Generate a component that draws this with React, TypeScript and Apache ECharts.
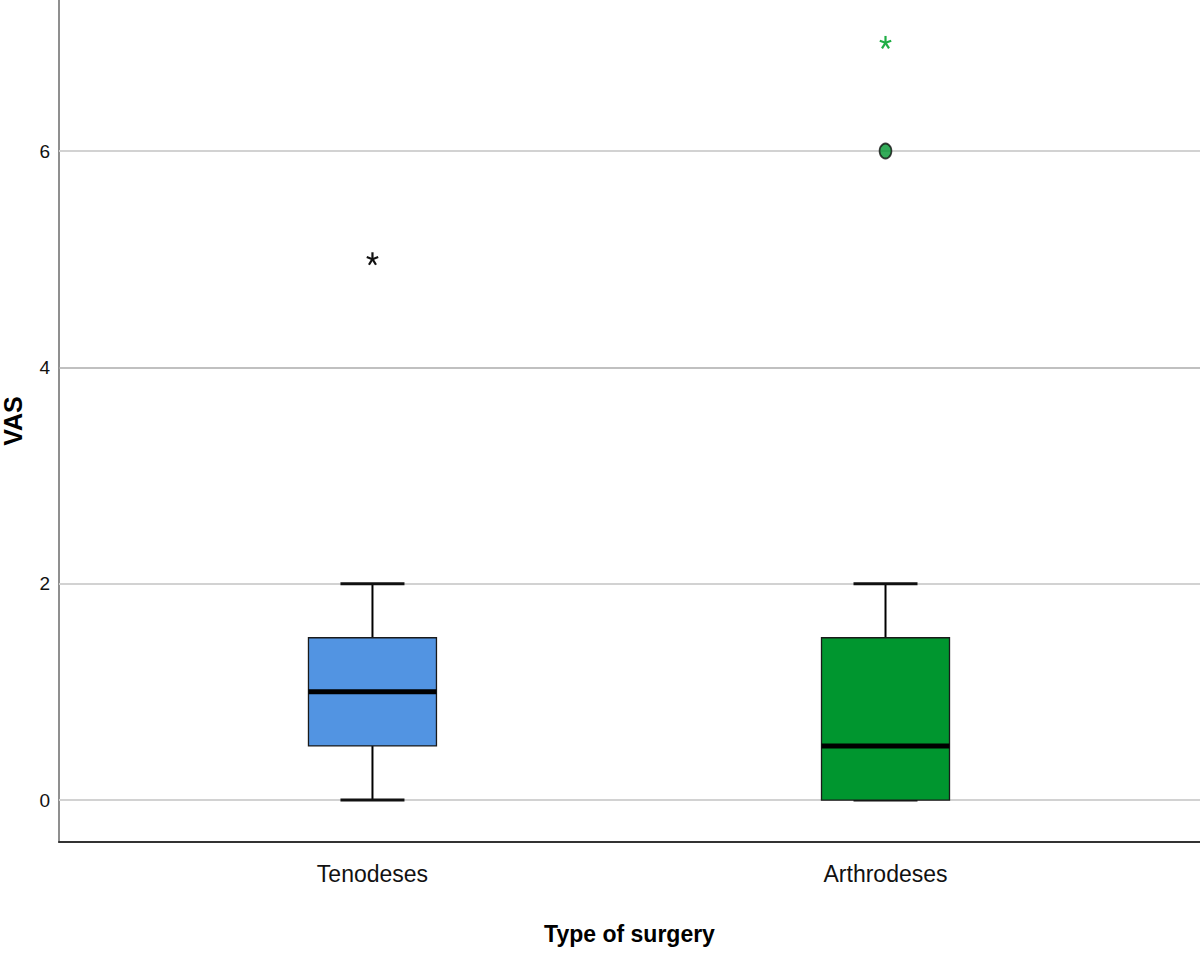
import React, { useEffect, useRef } from "react";
import * as echarts from "echarts";

// ---- data ----
const categories = ["Tenodeses", "Arthrodeses"];
const categoryPositions = [1, 2];
const whiskerMin = [0, 0];
const quartile1 = [0.5, 0];
const medians = [1, 0.5];
const quartile3 = [1.5, 1.5];
const whiskerMax = [2, 2];
// outliers (circles) and extreme values (asterisks)
const outlierCategory = [2];
const outlierValues = [6];
const extremeCategory = [1, 2];
const extremeValues = [5, 7];
const yTicks = [0, 2, 4, 6];

// ---- styles ----
const boxColors = ["#5294E2", "#00962F"];
const extremeColors = ["#111111", "#1FAE45"];
const FONT = "'Liberation Sans', Arial, sans-serif";

export default function App() {
  const ref = useRef<HTMLDivElement>(null);

  useEffect(() => {
    if (!ref.current) return;
    const chart = echarts.init(ref.current, null, { renderer: "svg" });

    const boxData = categoryPositions.map((x, i) => [
      x,
      whiskerMin[i],
      quartile1[i],
      medians[i],
      quartile3[i],
      whiskerMax[i],
    ]);
    const outlierData = outlierCategory.map((c, i) => [categoryPositions[c - 1], outlierValues[i], c - 1]);
    const extremeData = extremeCategory.map((c, i) => [categoryPositions[c - 1], extremeValues[i], c - 1]);

    const gridLines = yTicks.map((v) => ({
      yAxis: v,
      lineStyle: v === 4 ? { color: "#ababab", width: 1.6, type: "solid" } : { color: "#d2d2d2", width: 2.2, type: "solid" },
    }));

    const option: any = {
      animation: false,
      backgroundColor: "#ffffff",
      grid: { left: 59, right: 0, top: 0, bottom: 113, containLabel: false, outerBoundsMode: "none" },
      xAxis: {
        type: "value",
        min: 0.389,
        max: 2.613,
        axisLine: { show: true, onZero: false, lineStyle: { color: "#333333", width: 2 } },
        axisTick: { show: false },
        splitLine: { show: false },
        axisLabel: {
          customValues: categoryPositions,
          formatter: (v: number) => {
            const idx = categoryPositions.indexOf(Math.round(v));
            return idx >= 0 ? categories[idx] : "";
          },
          fontFamily: FONT,
          fontSize: 23,
          color: "#111111",
          margin: 20,
        },
        name: "Type of surgery",
        nameLocation: "middle",
        nameGap: 80,
        nameTextStyle: { fontFamily: FONT, fontSize: 23, fontWeight: "bold", color: "#000000" },
      },
      yAxis: {
        type: "value",
        min: -0.388,
        max: 7.396,
        axisLine: { show: true, onZero: false, lineStyle: { color: "#8f8f8f", width: 2 } },
        axisTick: { show: false },
        splitLine: { show: false },
        axisLabel: {
          customValues: yTicks,
          fontFamily: FONT,
          fontSize: 19,
          color: "#111111",
          margin: 9,
        },
        name: "VAS",
        nameLocation: "middle",
        nameGap: 34,
        nameRotate: 90,
        nameTextStyle: { fontFamily: FONT, fontSize: 25, fontWeight: "bold", color: "#000000" },
      },
      series: [
        {
          type: "line",
          data: [],
          z: 1,
          silent: true,
          markLine: {
            z: 1,
            silent: true,
            symbol: ["none", "none"],
            label: { show: false },
            data: gridLines,
          },
        },
        {
          type: "custom",
          z: 3,
          encode: { x: 0, y: [1, 2, 3, 4, 5] },
          data: boxData,
          renderItem: (params: any, api: any) => {
            const x = api.value(0);
            const lo = api.coord([x, api.value(1)]);
            const q1 = api.coord([x, api.value(2)]);
            const med = api.coord([x, api.value(3)]);
            const q3 = api.coord([x, api.value(4)]);
            const hi = api.coord([x, api.value(5)]);
            const cx = lo[0];
            const hw = 64;
            const cw = 32;
            const color = boxColors[params.dataIndex];
            const black = "#000000";
            return {
              type: "group",
              children: [
                { type: "line", shape: { x1: cx, y1: hi[1], x2: cx, y2: q3[1] }, style: { stroke: black, lineWidth: 2 } },
                { type: "line", shape: { x1: cx, y1: q1[1], x2: cx, y2: lo[1] }, style: { stroke: black, lineWidth: 2 } },
                { type: "line", shape: { x1: cx - cw, y1: hi[1], x2: cx + cw, y2: hi[1] }, style: { stroke: "#111", lineWidth: 3 } },
                { type: "line", shape: { x1: cx - cw, y1: lo[1], x2: cx + cw, y2: lo[1] }, style: { stroke: "#111", lineWidth: 3 } },
                {
                  type: "rect",
                  shape: { x: cx - hw, y: q3[1], width: hw * 2, height: q1[1] - q3[1] },
                  style: { fill: color, stroke: "#1a1a1a", lineWidth: 1.3 },
                },
                { type: "line", shape: { x1: cx - hw, y1: med[1], x2: cx + hw, y2: med[1] }, style: { stroke: black, lineWidth: 5 } },
              ],
            };
          },
        },
        {
          type: "scatter",
          z: 4,
          data: outlierData,
          symbol: "circle",
          symbolSize: [12, 15],
          itemStyle: {
            color: (p: any) => boxColors[p.data[2]],
            borderColor: "#111111",
            borderWidth: 1.8,
          },
        },
        {
          type: "custom",
          z: 4,
          encode: { x: 0, y: 1 },
          data: extremeData,
          renderItem: (params: any, api: any) => {
            const c = api.coord([api.value(0), api.value(1)]);
            const color = extremeColors[api.value(2)];
            const r = 6;
            const children: any[] = [];
            for (let k = 0; k < 5; k++) {
              const a = (-90 + k * 72) * (Math.PI / 180);
              children.push({
                type: "line",
                shape: { x1: c[0], y1: c[1], x2: c[0] + r * Math.cos(a), y2: c[1] + r * 1.15 * Math.sin(a) },
                style: { stroke: color, lineWidth: 2.2 },
              });
            }
            return { type: "group", children };
          },
        },
      ],
    };

    chart.setOption(option);
    return () => chart.dispose();
  }, []);

  return (
    <div
      ref={ref}
      style={{ position: "absolute", left: 0, top: 0, width: 1200, height: 955, background: "#fff" }}
    />
  );
}
